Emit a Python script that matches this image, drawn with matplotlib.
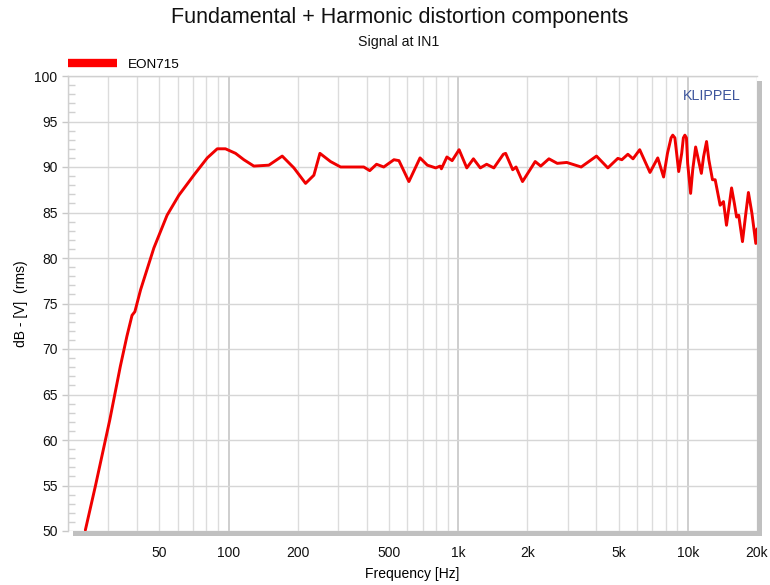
import matplotlib
matplotlib.use("Agg")
import matplotlib.pyplot as plt
from matplotlib.lines import Line2D
from matplotlib.patches import Rectangle
from matplotlib.ticker import FixedLocator, NullFormatter, MultipleLocator

plt.rcParams['font.family'] = ['Liberation Sans', 'DejaVu Sans']

# ---- data ----
freq_hz = [23.8, 26.3, 30.4, 33.8, 36.1, 38.0, 39.1, 41.4, 47.3, 54.0, 60.8, 70.6,
           80.8, 89.3, 97.0, 107.3, 116.6, 128.9, 149.8, 171.3, 192.6, 216.5,
           235.3, 250, 278, 307.6, 351, 388, 412, 441, 474, 525, 552, 610, 682,
           734, 798, 834, 845, 893, 941, 1009, 1090, 1165, 1248, 1330, 1430,
           1572, 1609, 1727, 1786, 1906, 2091, 2164, 2288, 2483, 2700, 2970,
           3432, 4000, 4483, 4956, 5159, 5480, 5770, 6170, 6840, 7395, 7840,
           8150, 8450, 8594, 8780, 9122, 9400, 9560, 9705, 9860, 9980, 10280,
           10500, 10810, 11050, 11450, 11700, 12060, 12340, 12800, 13150, 13820,
           14290, 14730, 15140, 15500, 15940, 16300, 16650, 17000, 17290, 17880,
           18350, 19010, 19760, 20000]
level_db = [50.1, 54.9, 62.2, 68.1, 71.4, 73.7, 74.1, 76.5, 81.1, 84.7, 86.9, 89.1,
            91.0, 92.0, 92.0, 91.5, 90.8, 90.1, 90.2, 91.2, 89.9, 88.2,
            89.1, 91.5, 90.6, 90.0, 90.0, 90.0, 89.6, 90.3, 90.0, 90.8, 90.7, 88.4, 91.0,
            90.2, 89.9, 90.1, 89.8, 91.1, 90.7, 91.9, 89.9, 90.9, 89.9, 90.3, 89.9,
            91.4, 91.5, 89.7, 90.0, 88.4, 90.0, 90.6, 90.1, 90.9, 90.4, 90.5,
            90.0, 91.2, 89.9, 90.95, 90.8, 91.4, 90.9, 91.9, 89.4, 91.0, 88.9,
            91.5, 93.2, 93.5, 93.2, 89.5, 91.5, 93.2, 93.5, 93.2, 90.4, 87.1,
            89.7, 92.2, 91.1, 89.3, 91.1, 92.8, 90.8, 88.6, 88.6, 85.8,
            86.2, 83.6, 85.8, 87.7, 86.0, 84.5, 84.7, 83.1, 81.8, 84.9,
            87.2, 84.9, 81.6, 83.2]
series_name = "EON715"
xtick_values = [50, 100, 200, 500, 1000, 2000, 5000, 10000, 20000]
xtick_labels = ["50", "100", "200", "500", "1k", "2k", "5k", "10k", "20k"]
ytick_values = [50, 55, 60, 65, 70, 75, 80, 85, 90, 95, 100]

W, H = 770, 585
fig = plt.figure(figsize=(W / 100, H / 100), dpi=100)
L, R, T, B = 68, 757, 76, 531
ax = fig.add_axes([L / W, 1 - B / H, (R - L) / W, (B - T) / H])
ax.set_zorder(1)

# drop shadow
shadow = Rectangle(((L + 5) / W, 1 - (B + 5) / H), (R - L) / W, (B - T) / H,
                   transform=fig.transFigure, facecolor='#c0c0c0',
                   edgecolor='none', zorder=0)
fig.add_artist(shadow)

ax.set_xscale('log')
ax.set_xlim(20, 20000)
ax.set_ylim(50, 100)

# grid lines
minor_x = [m * 10 ** e for e in range(1, 5) for m in range(2, 10) if 20 <= m * 10 ** e <= 20000]
for xv in minor_x:
    ax.axvline(xv, color='#dcdcdc', lw=1.0, zorder=0)
for xv in [100, 1000, 10000]:
    ax.axvline(xv, color='#cacaca', lw=1.3, zorder=0)
for yv in ytick_values:
    ax.axhline(yv, color='#d6d6d6', lw=1.0, zorder=0)

ax.xaxis.set_major_locator(FixedLocator(xtick_values))
ax.set_xticklabels(xtick_labels)
ax.xaxis.set_minor_formatter(NullFormatter())
ax.xaxis.set_minor_locator(FixedLocator([]))
ax.tick_params(axis='x', which='both', length=0, pad=11, labelsize=10, colors='#111111')
ax.yaxis.set_major_locator(FixedLocator(ytick_values))
ax.yaxis.set_minor_locator(MultipleLocator(1))
ax.tick_params(axis='y', which='major', length=4.5, width=1, color='#c8c8c8',
               direction='out', pad=3, labelsize=10, labelcolor='#111111')
ax.tick_params(axis='y', which='minor', length=5, width=1, color='#d0d0d0', direction='in')

for s in ['top', 'left']:
    ax.spines[s].set_color('#d0d0d0')
    ax.spines[s].set_linewidth(1)
for s in ['right', 'bottom']:
    ax.spines[s].set_visible(False)

ax.plot(freq_hz, level_db, color='#f00000', lw=2.1, solid_joinstyle='round',
        solid_capstyle='round', zorder=3)

ax.set_xlabel("Frequency [Hz]", fontsize=10, labelpad=5)
ax.set_ylabel("dB - [V]  (rms)", fontsize=10, labelpad=5)

fig.text(400 / W, 1 - 17 / H, "Fundamental + Harmonic distortion components",
         ha='center', va='center', fontsize=15.5, color='#111111')
fig.text(399 / W, 1 - 42 / H, "Signal at IN1", ha='center', va='center',
         fontsize=10.2, color='#111111')
ax.text(0.976, 0.955, "KLIPPEL", transform=ax.transAxes, ha='right', va='center',
        fontsize=10.3, color='#3d559c')

handle = Line2D([], [], color='#ff0000', lw=6, solid_capstyle='butt')
leg = ax.legend([handle], [series_name], loc='lower left', bbox_to_anchor=(0, 1.0116),
                frameon=False, fontsize=9.7, handlelength=3.6, handletextpad=0.85,
                borderpad=0, borderaxespad=0)

fig.savefig("out.png", dpi=100)
